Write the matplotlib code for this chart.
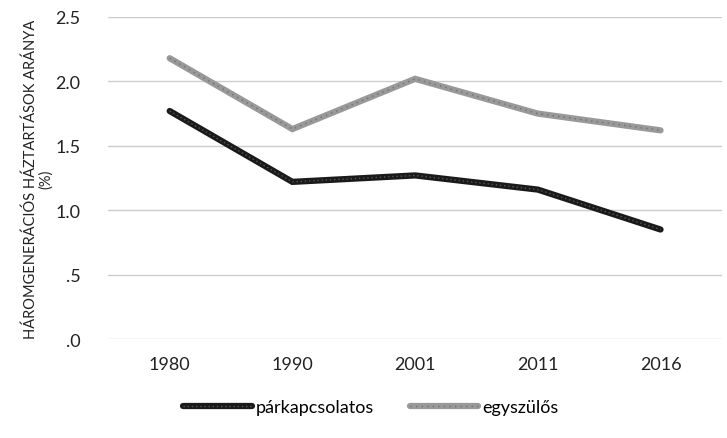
import matplotlib
matplotlib.use('Agg')
import matplotlib.pyplot as plt
from matplotlib.legend_handler import HandlerTuple
from matplotlib.lines import Line2D

plt.rcParams['font.family'] = ['Lato', 'DejaVu Sans']

years = ['1980', '1990', '2001', '2011', '2016']
parkapcsolatos = [1.77, 1.22, 1.27, 1.16, 0.85]
egyszulos = [2.18, 1.63, 2.02, 1.75, 1.62]
yticks = [0.0, 0.5, 1.0, 1.5, 2.0, 2.5]
ytick_labels = ['.0', '.5', '1.0', '1.5', '2.0', '2.5']

fig = plt.figure(figsize=(7.27, 4.39), dpi=100)
ax = fig.add_axes([0.149, 0.2255, 0.844, 0.7335])

x = [i + 0.5 for i in range(len(years))]

# thick line with a dotted texture on top
ax.plot(x, egyszulos, color='#999999', lw=4.5, solid_capstyle='round',
        solid_joinstyle='miter', zorder=3)
ax.plot(x, egyszulos, color='#6f6f6f', lw=1.0, ls=(0, (1, 3)), zorder=4)
ax.plot(x, parkapcsolatos, color='#1a1a1a', lw=4.5, solid_capstyle='round',
        solid_joinstyle='miter', zorder=3)
ax.plot(x, parkapcsolatos, color='#555555', lw=1.0, ls=(0, (1, 2)), zorder=4)

ax.set_xlim(0, len(years))
ax.set_ylim(0, 2.5)
ax.set_xticks(x)
ax.set_xticklabels(years)
ax.set_yticks(yticks)
ax.set_yticklabels(ytick_labels)
ax.tick_params(axis='both', length=0, labelsize=13, colors='#222222')
ax.tick_params(axis='x', pad=12)
ax.tick_params(axis='y', pad=20)
ax.yaxis.grid(True, color='#cccccc', lw=1.0)
ax.set_axisbelow(True)
for s in ax.spines.values():
    s.set_visible(False)

ax.set_ylabel('HÁROMGENERÁCIÓS HÁZTARTÁSOK ARÁNYA\n(%)', fontsize=10.5,
              color='#222222', linespacing=1.0, labelpad=2,
              multialignment='center')

h1 = (Line2D([], [], color='#1a1a1a', lw=4.5, solid_capstyle='round'),
      Line2D([], [], color='#555555', lw=1.0, ls=(0, (1, 2))))
h2 = (Line2D([], [], color='#999999', lw=4.5, solid_capstyle='round'),
      Line2D([], [], color='#6f6f6f', lw=1.0, ls=(0, (1, 3))))
fig.legend([h1, h2], ['párkapcsolatos', 'egyszülős'],
           handler_map={tuple: HandlerTuple(ndivide=1, pad=0)},
           loc='center', bbox_to_anchor=(0.51, 0.07), ncol=2, frameon=False,
           fontsize=13, handlelength=3.8, handletextpad=0.2, columnspacing=2.0)

fig.savefig('out.png', dpi=100)
